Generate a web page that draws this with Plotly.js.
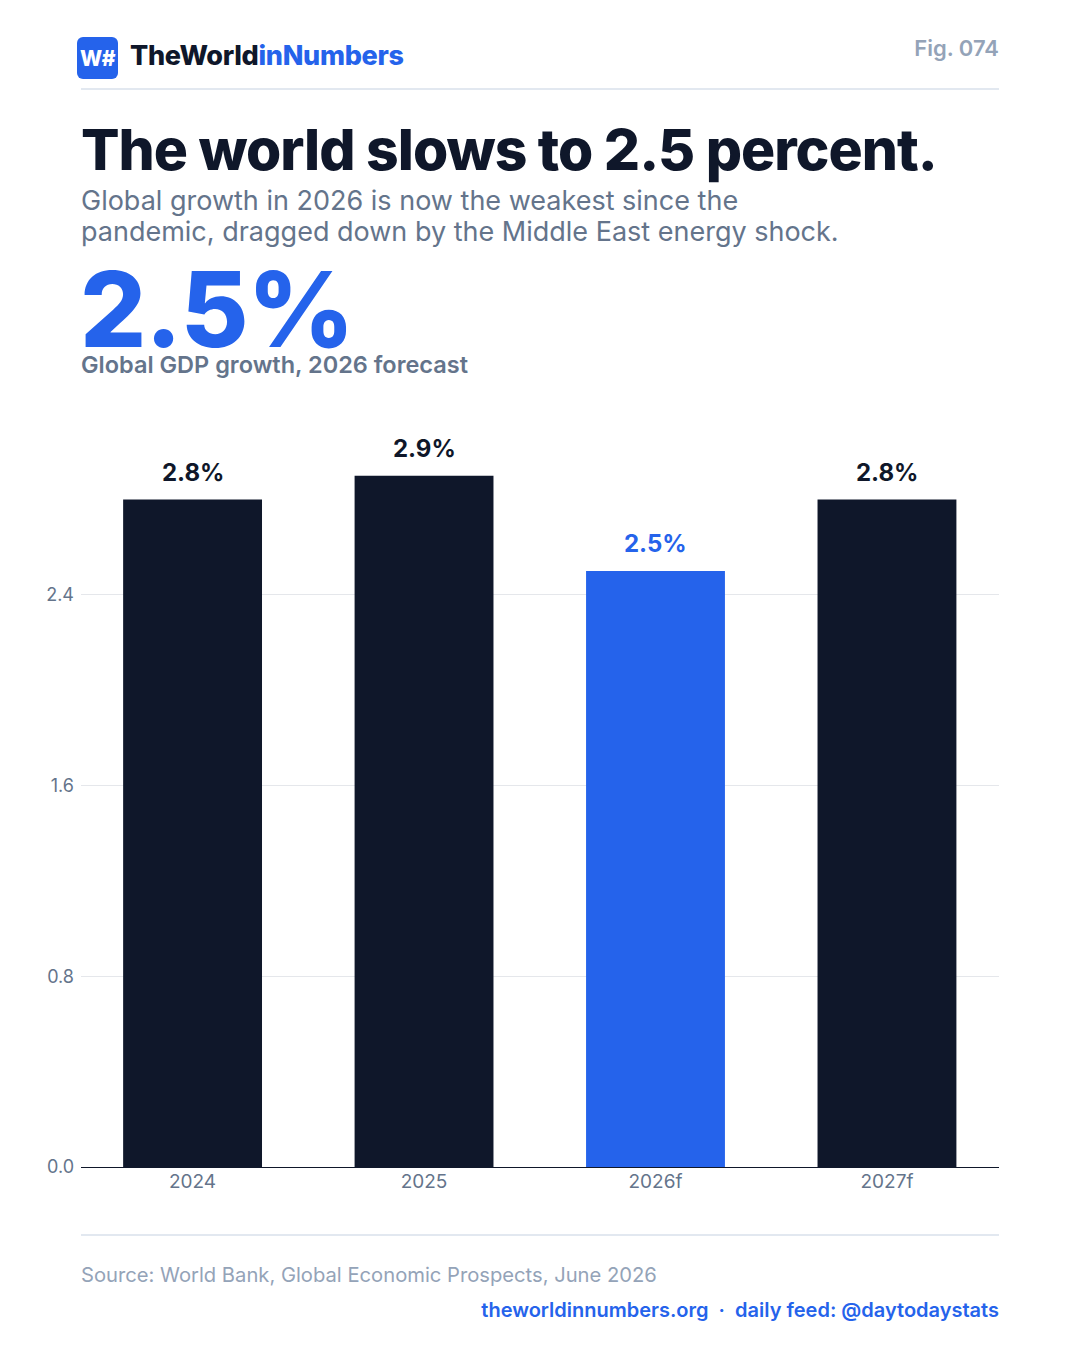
<!DOCTYPE html>
<html>
<head>
<meta charset="utf-8">
<script src="https://cdn.plot.ly/plotly-3.0.1.min.js"></script>
<style>
  html, body { margin: 0; padding: 0; background: #ffffff; }
  body { width: 1080px; height: 1350px; position: relative; overflow: hidden; font-family: Inter, "Noto Sans", sans-serif; }
  #chart { position: absolute; left: 0; top: 0; width: 1080px; height: 1350px; }
  .t { position: absolute; white-space: nowrap; line-height: 1; }
  .rule { position: absolute; left: 81px; width: 918px; height: 2px; background: #e2e8f0; }
</style>
</head>
<body>
<div id="chart"></div>

<div style="position:absolute;left:77px;top:37px;width:41px;height:42px;border-radius:6px;background:#2563eb;color:#fff;font-weight:800;font-size:21px;display:flex;align-items:center;justify-content:center;letter-spacing:-0.5px;">W#</div>
<div class="t" style="left:130px;top:42px;font-size:27px;font-weight:800;color:#0f172a;letter-spacing:-0.3px;">TheWorld<span style="color:#2563eb;">inNumbers</span></div>
<div class="t" style="right:81px;top:37px;font-size:22px;font-weight:600;color:#94a3b8;">Fig. 074</div>
<div class="rule" style="top:88px;"></div>

<div class="t" style="left:81px;top:121px;font-size:57px;font-weight:800;color:#0f172a;letter-spacing:-1px;">The world slows to 2.5 percent.</div>
<div class="t" style="left:81px;top:185px;font-size:27px;font-weight:400;color:#64748b;line-height:31px;white-space:normal;width:950px;">Global growth in 2026 is now the weakest since the<br>pandemic, dragged down by the Middle East energy shock.</div>
<div class="t" style="left:80px;top:265px;font-size:104px;line-height:88px;font-weight:800;color:#2563eb;letter-spacing:-1px;">2.5%</div>
<div class="t" style="left:81px;top:355px;font-size:23.5px;line-height:20px;font-weight:600;color:#64748b;">Global GDP growth, 2026 forecast</div>

<div class="rule" style="top:1234px;"></div>
<div class="t" style="left:81px;top:1265px;font-size:20.2px;font-weight:400;color:#94a3b8;">Source: World Bank, Global Economic Prospects, June 2026</div>
<div class="t" style="right:81px;top:1300px;font-size:20px;font-weight:600;color:#2563eb;">theworldinnumbers.org &nbsp;·&nbsp; daily feed: @daytodaystats</div>

<script>
const categories = ["2024", "2025", "2026f", "2027f"];
const growth = [2.8, 2.9, 2.5, 2.8];
const barLabels = ["2.8%", "2.9%", "2.5%", "2.8%"];
const yTickVals = [0, 0.8, 1.6, 2.4];
const yTickText = ["0.0", "0.8", "1.6", "2.4"];

const DARK = "#0f172a";
const BLUE = "#2563eb";
const highlight = "2026f";
const barColors = categories.map(c => c === highlight ? BLUE : DARK);

const trace = {
  type: "bar",
  x: categories,
  y: growth,
  marker: { color: barColors, line: { width: 0 } },
  width: 0.6,
  hoverinfo: "skip"
};

const annotations = categories.map((c, i) => ({
  x: i, y: growth[i], xref: "x", yref: "y",
  text: barLabels[i],
  showarrow: false,
  yanchor: "bottom",
  yshift: 11,
  font: { family: "Inter, sans-serif", size: 24, color: barColors[i], weight: 700 }
}));

const layout = {
  width: 1080, height: 1350,
  margin: { l: 81, r: 81, t: 428, b: 183, pad: 0 },
  paper_bgcolor: "rgba(0,0,0,0)",
  plot_bgcolor: "rgba(0,0,0,0)",
  showlegend: false,
  bargap: 0.4,
  font: { family: "Inter, sans-serif" },
  xaxis: {
    type: "category",
    range: [-0.482, 3.484],
    showgrid: false,
    zeroline: false,
    showline: true,
    linecolor: DARK,
    linewidth: 1,
    ticks: "",
    tickfont: { family: "Inter, sans-serif", size: 19, color: "#64748b" },
    ticklabelstandoff: -3,
    fixedrange: true
  },
  yaxis: {
    range: [0, 3.1],
    tickvals: yTickVals,
    ticktext: yTickText,
    showgrid: true,
    gridcolor: "#e5e7eb",
    gridwidth: 1,
    zeroline: false,
    showline: false,
    ticks: "",
    tickfont: { family: "Inter, sans-serif", size: 18, color: "#64748b" },
    ticklabelstandoff: 6,
    fixedrange: true
  },
  annotations: annotations
};

Plotly.newPlot("chart", [trace], layout, { displayModeBar: false, staticPlot: true });
</script>
</body>
</html>
